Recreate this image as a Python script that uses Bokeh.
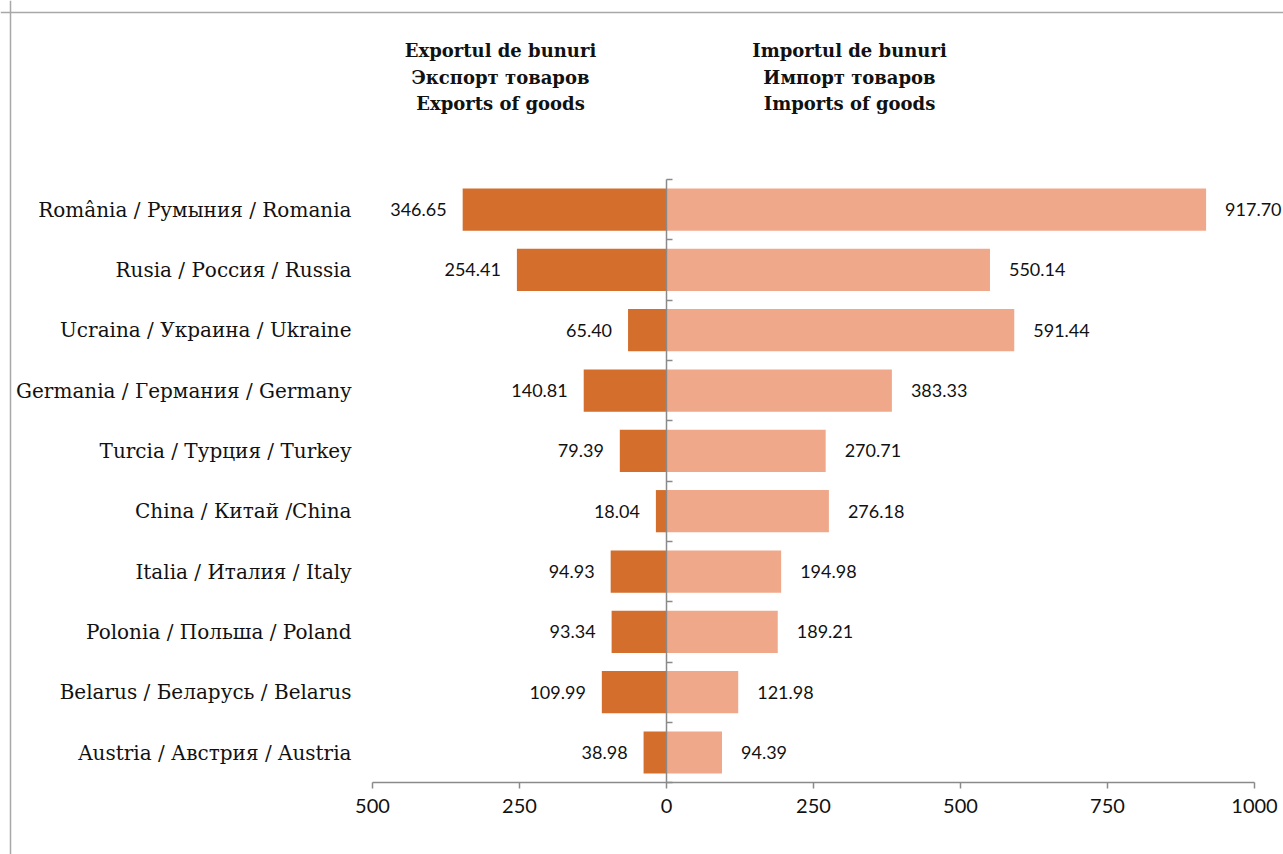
from bokeh.plotting import figure
from bokeh.models import Range1d, FixedTicker, CustomJSTickFormatter, Span
from bokeh.core.properties import value
from bokeh.embed import file_html
from bokeh.resources import INLINE

countries = ["România / Румыния / Romania", "Rusia / Россия / Russia",
             "Ucraina / Украина / Ukraine", "Germania / Германия / Germany",
             "Turcia / Турция / Turkey", "China / Китай /China",
             "Italia / Италия / Italy", "Polonia / Польша / Poland",
             "Belarus / Беларусь / Belarus", "Austria / Австрия / Austria"]
exports = [346.65, 254.41, 65.40, 140.81, 79.39, 18.04, 94.93, 93.34, 109.99, 38.98]
imports = [917.70, 550.14, 591.44, 383.33, 270.71, 276.18, 194.98, 189.21, 121.98, 94.39]
x_ticks = [-500, -250, 0, 250, 500, 750, 1000]
export_title = ["Exportul de bunuri", "Экспорт товаров", "Exports of goods"]
import_title = ["Importul de bunuri", "Импорт товаров", "Imports of goods"]

# layout constants (canvas pixels)
W, H = 1283, 854
X0 = 666.0      # canvas x of value 0
SX = 0.588      # px per unit
Y0 = 752.0      # canvas y of last category centre
SY = 60.33      # px per category

n = len(countries)
ys = [n - 1 - i for i in range(n)]

p = figure(width=W, height=H, output_backend="svg", toolbar_location=None,
           x_range=Range1d(-X0 / SX, (W - X0) / SX),
           y_range=Range1d(-(H - Y0) / SY, Y0 / SY),
           min_border=0, min_border_left=0, min_border_right=0,
           min_border_top=0, min_border_bottom=0)
p.outline_line_color = None
p.grid.visible = False
p.background_fill_color = "white"
p.border_fill_color = "white"

DARK = "#D36E2C"
LIGHT = "#F0A88A"

p.hbar(y=ys, left=[-e for e in exports], right=0, height=0.70,
       fill_color=DARK, line_color=None)
p.hbar(y=ys, left=0, right=imports, height=0.70,
       fill_color=LIGHT, line_color=None)

num_font = value("Lato")
p.text(x=[-e for e in exports], y=ys, text=[f"{e:.2f}" for e in exports],
       x_offset=-16, text_align="right", text_baseline="middle",
       text_font=num_font, text_font_size="18px", text_color="#111111")
p.text(x=imports, y=ys, text=[f"{v:.2f}" for v in imports],
       x_offset=19, text_align="left", text_baseline="middle",
       text_font=num_font, text_font_size="18px", text_color="#111111")

# category labels
cat_x = (351 - X0) / SX
p.text(x=[cat_x] * n, y=ys, text=countries, text_align="right",
       text_baseline="middle", text_font=value("DejaVu Serif"),
       text_font_size="20px", text_color="#111111")

# headers
hy = [(Y0 - cy) / SY for cy in (50, 77, 103)]
p.text(x=[(500 - X0) / SX] * 3, y=hy, text=export_title, text_align="center",
       text_baseline="middle", text_font=value("DejaVu Serif"),
       text_font_style="bold", text_font_size="18px", text_color="#111111")
p.text(x=[(849 - X0) / SX] * 3, y=hy, text=import_title, text_align="center",
       text_baseline="middle", text_font=value("DejaVu Serif"),
       text_font_style="bold", text_font_size="18px", text_color="#111111")

AX = "#8a8a8a"
# x axis
xa = p.xaxis[0]
xa.fixed_location = -0.5
xa.bounds = (x_ticks[0], x_ticks[-1])
xa.ticker = FixedTicker(ticks=x_ticks)
xa.formatter = CustomJSTickFormatter(code="return Math.abs(tick).toString();")
xa.axis_line_color = AX
xa.axis_line_width = 1.5
xa.major_tick_line_color = AX
xa.major_tick_line_width = 1.5
xa.major_tick_out = 6
xa.major_tick_in = 0
xa.minor_tick_line_color = None
xa.major_label_standoff = 10
xa.major_label_text_font = "Lato"
xa.major_label_text_font_size = "20px"
xa.major_label_text_color = "#111111"

# y axis (centre line)
ya = p.yaxis[0]
ya.fixed_location = 0
ya.bounds = (-0.5, n - 0.5)
ya.ticker = FixedTicker(ticks=[i - 0.5 for i in range(n + 1)])
ya.axis_line_color = AX
ya.axis_line_width = 1.5
ya.major_tick_line_color = AX
ya.major_tick_line_width = 1.5
ya.major_tick_out = 0
ya.major_tick_in = 6
ya.minor_tick_line_color = None
ya.major_label_text_color = None
ya.major_label_text_font_size = "0px"

# chart frame (left and top)
FR = "#a8a8a8"
p.add_layout(Span(location=(10 - X0) / SX, dimension="height",
                  line_color=FR, line_width=1.5))
p.add_layout(Span(location=(Y0 - 12) / SY, dimension="width",
                  line_color=FR, line_width=1.5))

open("out.html", "w").write(file_html(p, INLINE))
